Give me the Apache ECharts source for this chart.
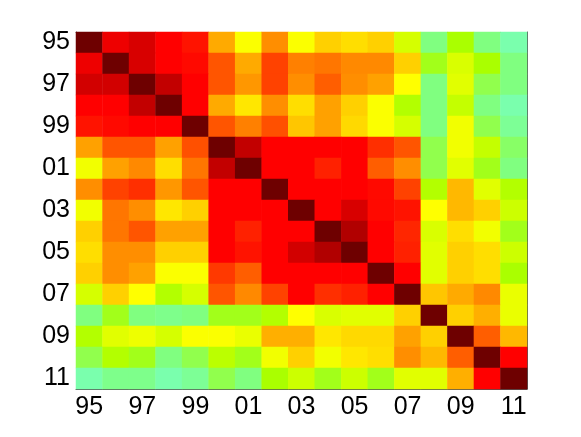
<!DOCTYPE html>
<html>
<head>
<meta charset="utf-8">
<script src="https://cdn.jsdelivr.net/npm/echarts@6/dist/echarts.min.js"></script>
<style>
html,body{margin:0;padding:0;background:#fff;}
#chart{width:581px;height:437px;}
</style>
</head>
<body>
<div id="chart"></div>
<script>
const years = ['95','96','97','98','99','00','01','02','03','04','05','06','07','08','09','10','11'];

const row95 = [1.0, 0.885, 0.905, 0.87, 0.85, 0.69, 0.595, 0.72, 0.595, 0.65, 0.635, 0.65, 0.55, 0.45, 0.50, 0.45, 0.41];
const row96 = [0.885, 1.0, 0.905, 0.87, 0.86, 0.78, 0.69, 0.80, 0.735, 0.745, 0.725, 0.725, 0.65, 0.49, 0.555, 0.50, 0.45];
const row97 = [0.91, 0.91, 1.0, 0.925, 0.87, 0.78, 0.71, 0.80, 0.72, 0.77, 0.72, 0.70, 0.60, 0.45, 0.565, 0.47, 0.45];
const row98 = [0.87, 0.87, 0.925, 1.0, 0.87, 0.69, 0.625, 0.72, 0.635, 0.70, 0.65, 0.595, 0.51, 0.45, 0.53, 0.45, 0.41];
const row99 = [0.85, 0.86, 0.87, 0.87, 1.0, 0.78, 0.735, 0.785, 0.66, 0.70, 0.64, 0.595, 0.55, 0.45, 0.585, 0.47, 0.43];
const row00 = [0.70, 0.78, 0.78, 0.70, 0.785, 1.0, 0.925, 0.87, 0.87, 0.87, 0.87, 0.82, 0.78, 0.47, 0.585, 0.53, 0.46];
const row01 = [0.585, 0.70, 0.725, 0.635, 0.745, 0.925, 1.0, 0.87, 0.87, 0.835, 0.87, 0.77, 0.72, 0.47, 0.565, 0.49, 0.45];
const row02 = [0.72, 0.80, 0.82, 0.71, 0.78, 0.87, 0.87, 1.0, 0.87, 0.87, 0.87, 0.86, 0.80, 0.51, 0.675, 0.565, 0.51];
const row03 = [0.585, 0.745, 0.72, 0.625, 0.65, 0.87, 0.87, 0.87, 1.0, 0.87, 0.905, 0.86, 0.85, 0.60, 0.675, 0.65, 0.54];
const row04 = [0.65, 0.745, 0.78, 0.70, 0.70, 0.87, 0.835, 0.87, 0.87, 1.0, 0.94, 0.87, 0.83, 0.555, 0.635, 0.585, 0.49];
const row05 = [0.635, 0.72, 0.72, 0.65, 0.65, 0.87, 0.85, 0.87, 0.91, 0.94, 1.0, 0.87, 0.835, 0.565, 0.65, 0.635, 0.54];
const row06 = [0.65, 0.72, 0.70, 0.595, 0.595, 0.81, 0.77, 0.87, 0.87, 0.87, 0.87, 1.0, 0.87, 0.565, 0.65, 0.635, 0.50];
const row07 = [0.55, 0.65, 0.60, 0.51, 0.55, 0.78, 0.725, 0.80, 0.87, 0.82, 0.835, 0.87, 1.0, 0.66, 0.69, 0.725, 0.575];
const row08 = [0.45, 0.49, 0.45, 0.44, 0.45, 0.49, 0.49, 0.51, 0.60, 0.555, 0.565, 0.565, 0.65, 1.0, 0.65, 0.685, 0.575];
const row09 = [0.51, 0.565, 0.58, 0.55, 0.595, 0.595, 0.575, 0.685, 0.685, 0.625, 0.64, 0.64, 0.70, 0.65, 1.0, 0.77, 0.675];
const row10 = [0.47, 0.51, 0.49, 0.45, 0.47, 0.52, 0.49, 0.585, 0.65, 0.585, 0.625, 0.635, 0.72, 0.675, 0.77, 1.0, 0.87];
const row11 = [0.41, 0.44, 0.44, 0.41, 0.43, 0.47, 0.45, 0.50, 0.54, 0.49, 0.54, 0.49, 0.565, 0.565, 0.685, 0.87, 1.0];

const rows = [row95,row96,row97,row98,row99,row00,row01,row02,row03,row04,row05,row06,row07,row08,row09,row10,row11];

// colour map anchors (value -> colour)
const colorStops = [[0.40,'#78ffb8'],[0.45,'#80ff80'],[0.50,'#aaff00'],[0.60,'#ffff00'],[0.87,'#ff0000'],[1.0,'#6e0000']];
const vMin = 0.40, vMax = 1.0;

function hex2rgb(h){return [parseInt(h.substr(1,2),16),parseInt(h.substr(3,2),16),parseInt(h.substr(5,2),16)];}
function colorAt(v){
  for(let i=0;i<colorStops.length-1;i++){
    const a=colorStops[i], b=colorStops[i+1];
    if(v<=b[0]+1e-9){
      const t=(v-a[0])/(b[0]-a[0]);
      const ca=hex2rgb(a[1]), cb=hex2rgb(b[1]);
      const c=ca.map((x,k)=>Math.round(x+(cb[k]-x)*t));
      return 'rgb('+c.join(',')+')';
    }
  }
  return colorStops[colorStops.length-1][1];
}
const palette=[];
for(let i=0;i<=120;i++){palette.push(colorAt(vMin+(vMax-vMin)*i/120));}

const data=[];
rows.forEach((r,yi)=>r.forEach((v,xi)=>data.push([xi,yi,v])));

const font = {fontFamily:'Liberation Sans', fontSize:25, color:'#000'};
const lineStyle = {color:'#555', width:1};

const chart = echarts.init(document.getElementById('chart'), null, {renderer:'canvas'});
chart.setOption({
  backgroundColor:'#fff',
  animation:false,
  grid:{left:76, top:32, width:451, height:357, containLabel:false},
  xAxis:[
    {type:'category', data:years, position:'bottom', boundaryGap:true,
     axisLine:{show:true, lineStyle:lineStyle},
     axisTick:{show:true, inside:true, alignWithLabel:true, interval:1, length:5, lineStyle:lineStyle},
     axisLabel:Object.assign({interval:1, margin:6}, font),
     splitLine:{show:false}},
    {type:'category', data:years, position:'top', boundaryGap:true,
     axisLine:{show:true, lineStyle:lineStyle},
     axisTick:{show:true, inside:true, alignWithLabel:true, interval:1, length:5, lineStyle:lineStyle},
     axisLabel:{show:false}, splitLine:{show:false}}
  ],
  yAxis:[
    {type:'category', data:years, inverse:true, position:'left', boundaryGap:true,
     axisLine:{show:true, lineStyle:lineStyle},
     axisTick:{show:true, inside:true, alignWithLabel:true, interval:1, length:5, lineStyle:lineStyle},
     axisLabel:Object.assign({interval:1, margin:6}, font),
     splitLine:{show:false}},
    {type:'category', data:years, inverse:true, position:'right', boundaryGap:true,
     axisLine:{show:true, lineStyle:lineStyle},
     axisTick:{show:true, inside:true, alignWithLabel:true, interval:1, length:5, lineStyle:lineStyle},
     axisLabel:{show:false}, splitLine:{show:false}}
  ],
  visualMap:{show:false, type:'continuous', min:vMin, max:vMax, dimension:2, inRange:{color:palette}},
  series:[{
    type:'heatmap', xAxisIndex:0, yAxisIndex:0, data:data,
    itemStyle:{borderWidth:0},
    emphasis:{disabled:true}, z:1
  }]
});
</script>
</body>
</html>
